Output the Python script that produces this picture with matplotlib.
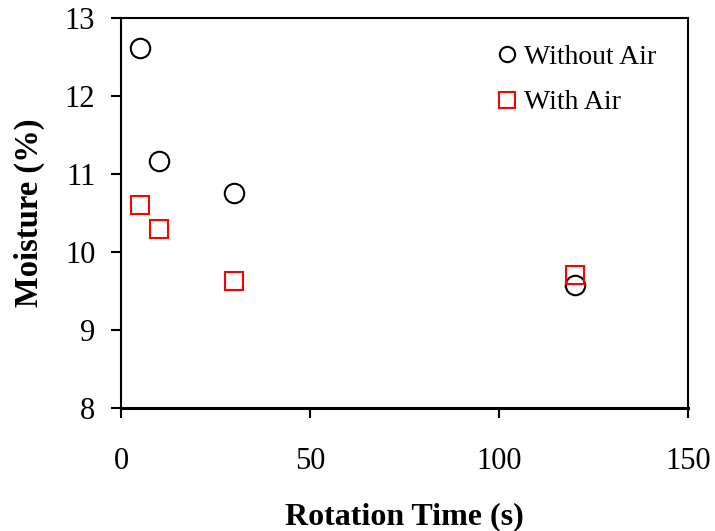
import matplotlib
matplotlib.use("Agg")
import matplotlib.pyplot as plt
from matplotlib.lines import Line2D

plt.rcParams['font.family'] = ['Liberation Serif', 'DejaVu Serif']

rotation_time = [5, 10, 30, 120]
moisture_without_air = [12.61, 11.17, 10.76, 9.58]
moisture_with_air = [10.60, 10.30, 9.63, 9.71]

fig = plt.figure(figsize=(7.15, 5.31), dpi=100)
ax = fig.add_axes([0.1692, 0.2316, 0.7930, 0.7345])

ax.plot(rotation_time, moisture_without_air, linestyle='none', marker='o',
        markersize=14, markerfacecolor='none', markeredgecolor='black',
        markeredgewidth=1.5, label='Without Air', zorder=3)
ax.plot(rotation_time, moisture_with_air, linestyle='none', marker='s',
        markersize=13.5, markerfacecolor='none', markeredgecolor='red',
        markeredgewidth=1.5, label='With Air', zorder=3)

ax.set_xlim(0, 150)
ax.set_ylim(8, 13)
ax.set_xticks([0, 50, 100, 150])
ax.set_yticks([8, 9, 10, 11, 12, 13])

for s in ax.spines.values():
    s.set_linewidth(1.5)
ax.spines['bottom'].set_linewidth(2.2)
ax.tick_params(direction='out', length=7, width=1.5, labelsize=22)
ax.tick_params(axis='x', pad=21)
ax.tick_params(axis='y', pad=11.5)

ax.set_xlabel('Rotation Time (s)', fontsize=23, fontweight='bold', labelpad=19)
ax.set_ylabel('Moisture (%)', fontsize=23.5, fontweight='bold', labelpad=14)

handles = [
    Line2D([], [], linestyle='none', marker='o', markersize=11,
           markerfacecolor='none', markeredgecolor='black', markeredgewidth=1.5),
    Line2D([], [], linestyle='none', marker='s', markersize=11.5,
           markerfacecolor='none', markeredgecolor='red', markeredgewidth=1.5),
]
ax.legend(handles, ['Without Air', 'With Air'], loc='upper left',
          bbox_to_anchor=(0.653, 0.947), frameon=False, fontsize=20,
          handlelength=0.7, handletextpad=0.29, labelspacing=0.73,
          borderaxespad=0.0, borderpad=0.2)

fig.savefig('out.png', dpi=100)
